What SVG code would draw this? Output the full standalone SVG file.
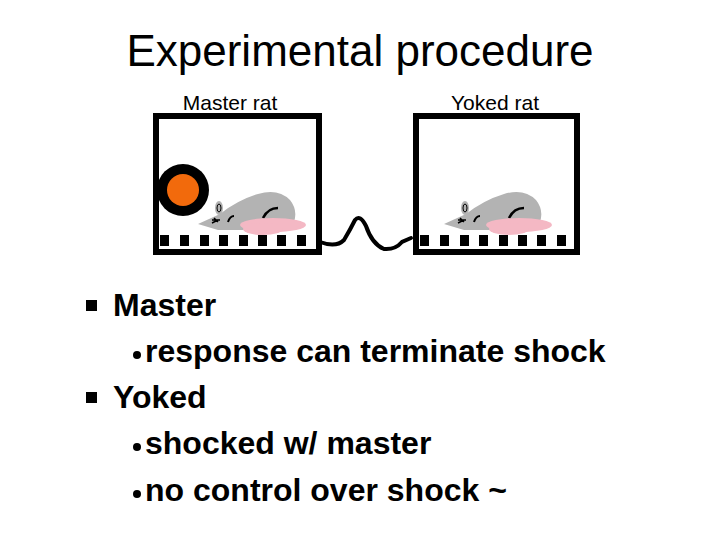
<svg xmlns="http://www.w3.org/2000/svg" width="720" height="540" viewBox="0 0 720 540">
<style>
text{font-family:"Liberation Sans",Arial,sans-serif;fill:#000}
.box{fill:#fff;stroke:#000;stroke-width:6}
.sq{fill:#000}
.rb{fill:#b3b3b3}
.pk{fill:#f4b8c4}
.t{font-size:32px;font-weight:bold}
</style>
<defs>
<g id="grid">
<rect class="sq" x="0" y="0" width="9" height="11"/><rect class="sq" x="20" y="0" width="9" height="11"/><rect class="sq" x="40" y="0" width="9" height="11"/><rect class="sq" x="59" y="0" width="9" height="11"/><rect class="sq" x="79" y="0" width="9" height="11"/><rect class="sq" x="98" y="0" width="9" height="11"/><rect class="sq" x="117" y="0" width="9" height="11"/><rect class="sq" x="137" y="0" width="9" height="11"/>
</g>
<g id="rat">
<path class="rb" d="M0,32 L22,22 Q40,8 60,2 Q80,-4 92,8 Q100,18 96,30 L60,38 L20,38 Z"/>
<ellipse class="rb" cx="21" cy="16" rx="4" ry="7"/>
<ellipse cx="21" cy="16" rx="2" ry="4" fill="none" stroke="#000" stroke-width="1"/>
<path d="M14,28 h8 M16,26 l4,4 M14,31 l6,-3" stroke="#000" stroke-width="1.5" fill="none"/>
<path d="M30,30 Q32,24 36,24" stroke="#000" stroke-width="2" fill="none"/>
<path d="M65,26 Q70,16 80,16" stroke="#000" stroke-width="2.5" fill="none"/>
<ellipse class="pk" cx="75" cy="33" rx="33" ry="7"/>
<ellipse class="pk" cx="65" cy="37" rx="20" ry="6"/>
</g>
</defs>
<text x="360" y="66" font-size="44" text-anchor="middle">Experimental procedure</text>
<g id="master">
<text x="230" y="110" font-size="21" text-anchor="middle">Master rat</text>
<rect class="box" x="156" y="116" width="163" height="136"/>
<use href="#grid" x="160" y="235"/>
<circle cx="183" cy="190" r="26" fill="#000"/>
<circle cx="183" cy="190" r="16" fill="#f26a0c"/>
<use href="#rat" x="198" y="192"/>
</g>
<g id="yoked">
<text x="495" y="110" font-size="21" text-anchor="middle">Yoked rat</text>
<rect class="box" x="416" y="116" width="161" height="136"/>
<use href="#grid" x="420" y="235"/>
<use href="#rat" x="444" y="192"/>
</g>
<g id="connectors">
<path d="M320,242 Q336,248 344,240 Q350,230 355,220 Q360,214 366,226 Q372,244 384,249 Q395,250 402,242 L411,238" fill="none" stroke="#000" stroke-width="4" stroke-linecap="round"/>
</g>
<g id="bullets">
<rect x="86" y="300" width="11" height="11"/>
<text x="113" y="316" class="t">Master</text>
<circle cx="137" cy="355" r="4"/>
<text x="145" y="362" class="t">response can terminate shock</text>
<rect x="86" y="392" width="11" height="11"/>
<text x="113" y="408" class="t">Yoked</text>
<circle cx="137" cy="447" r="4"/>
<text x="145" y="454" class="t">shocked w/ master</text>
<circle cx="137" cy="494" r="4"/>
<text x="145" y="501" class="t">no control over shock ~</text>
</g>
</svg>
